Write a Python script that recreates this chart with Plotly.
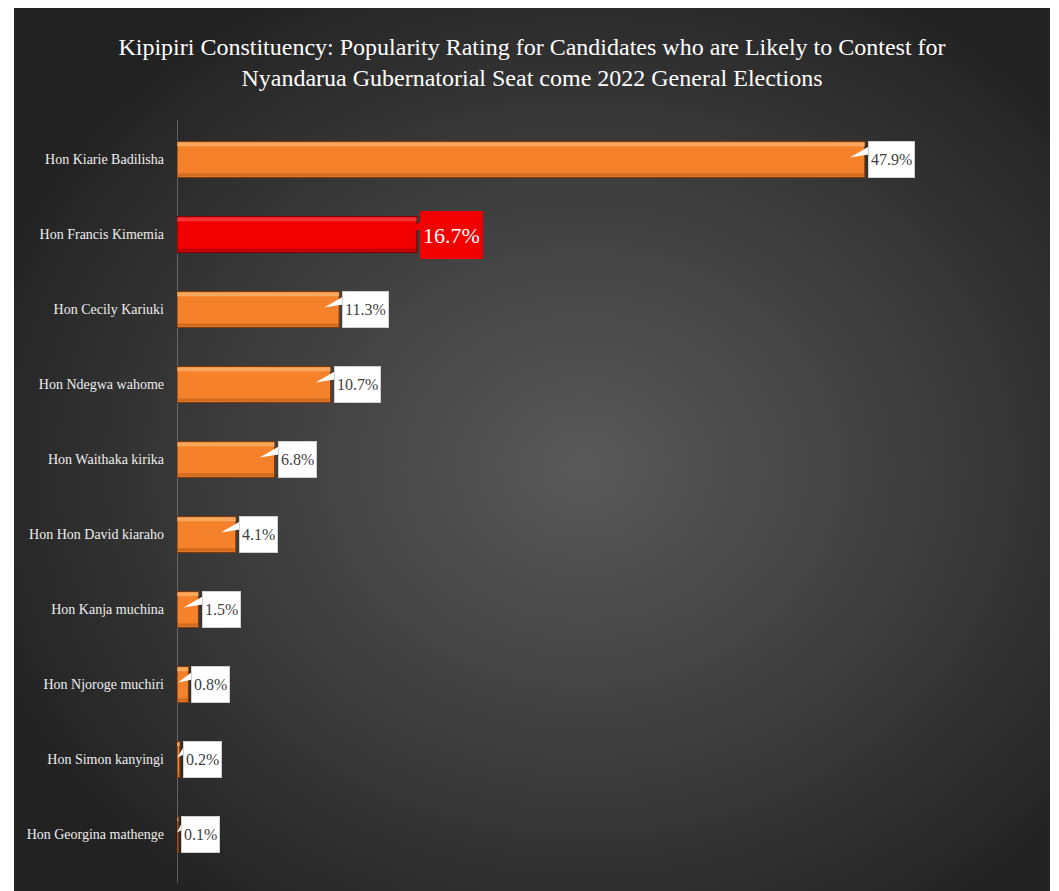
import base64
import plotly.graph_objects as go

# ---------------- data ----------------
candidates = [
    "Hon Kiarie Badilisha",
    "Hon Francis Kimemia",
    "Hon Cecily Kariuki",
    "Hon Ndegwa wahome",
    "Hon Waithaka kirika",
    "Hon Hon David kiaraho",
    "Hon Kanja muchina",
    "Hon Njoroge muchiri",
    "Hon Simon kanyingi",
    "Hon Georgina mathenge",
]
ratings = [47.9, 16.7, 11.3, 10.7, 6.8, 4.1, 1.5, 0.8, 0.2, 0.1]
value_labels = ["47.9%", "16.7%", "11.3%", "10.7%", "6.8%", "4.1%", "1.5%", "0.8%", "0.2%", "0.1%"]
highlight_index = 1

title_text = ("Kipipiri Constituency: Popularity Rating for Candidates who are Likely to Contest for"
              "<br>Nyandarua Gubernatorial Seat come 2022 General Elections")

# ---------------- layout geometry (figure coords; page body adds 8px offset) ----------------
W, H = 1051, 883
L, R, T, B = 169, 1022, 114, 864
XMAX = 59.4
px_per_unit = (R - L) / XMAX
FONT = "Liberation Serif"

ORANGE = "#F5822A"
RED = "#F20000"

ypos = list(range(len(candidates)))
colors = [RED if i == highlight_index else ORANGE for i in ypos]
edge = ["#7a0000" if i == highlight_index else "#7a3d12" for i in ypos]
hi_colors = ["rgba(255,130,130,0.4)" if i == highlight_index else "rgba(255,205,150,0.5)" for i in ypos]
lo_colors = ["rgba(120,0,0,0.4)" if i == highlight_index else "rgba(150,70,20,0.4)" for i in ypos]

fig = go.Figure()
fig.add_trace(go.Bar(
    x=ratings, y=ypos, orientation="h", width=0.48,
    marker=dict(color=colors, line=dict(color=edge, width=1.2)),
    hoverinfo="skip", showlegend=False,
))
fig.add_trace(go.Bar(
    x=ratings, y=ypos, orientation="h", width=0.05, offset=-0.228,
    marker=dict(color=hi_colors, line=dict(width=0)),
    hoverinfo="skip", showlegend=False,
))
fig.add_trace(go.Bar(
    x=ratings, y=ypos, orientation="h", width=0.04, offset=0.185,
    marker=dict(color=lo_colors, line=dict(width=0)),
    hoverinfo="skip", showlegend=False,
))

# value labels (callout boxes)
for i, (v, lab) in enumerate(zip(ratings, value_labels)):
    hl = i == highlight_index
    tip = min(15.0, v * px_per_unit * 0.9)
    fig.add_shape(
        type="path", xref="x", yref="y", xsizemode="pixel", ysizemode="pixel",
        xanchor=v, yanchor=i,
        path=f"M {-tip:.1f},2 L 4,13 L 4,5 Z",
        fillcolor=RED if hl else "white", line=dict(width=0), layer="above",
    )
    fig.add_annotation(
        x=v, y=i, xref="x", yref="y", text=lab, showarrow=False,
        xanchor="left", yanchor="middle", xshift=3,
        font=dict(family=FONT, size=22 if hl else 16, color="white" if hl else "#404040"),
        bgcolor=RED if hl else "white",
        bordercolor=RED if hl else "#d0d0d0", borderwidth=1, borderpad=2,
        height=42 if hl else 31,
    )

# vertical axis line (slightly longer than plot area, as in the original)
fig.add_shape(type="line", xref="x", yref="paper", x0=0, x1=0, y0=-0.015, y1=1.003,
              line=dict(color="#9a9a9a", width=1), layer="below")

# radial-gradient background (style only)
svg = (
    '<svg xmlns="http://www.w3.org/2000/svg" width="1036" height="885" viewBox="0 0 1036 885" preserveAspectRatio="none">'
    '<defs><radialGradient id="g" cx="0.55" cy="0.52" r="0.62">'
    '<stop offset="0" stop-color="#595959"/><stop offset="0.55" stop-color="#3c3c3c"/>'
    '<stop offset="1" stop-color="#222222"/></radialGradient></defs>'
    '<rect width="1036" height="885" fill="url(#g)"/></svg>'
)
src = "data:image/svg+xml;base64," + base64.b64encode(svg.encode()).decode()
bg_left, bg_right, bg_top, bg_bottom = 6, 1042, 0, 883
pw, ph = R - L, B - T
fig.add_layout_image(
    source=src, xref="paper", yref="paper",
    x=(bg_left - L) / pw, y=1 + (T - bg_top) / ph,
    sizex=(bg_right - bg_left) / pw, sizey=(bg_bottom - bg_top) / ph,
    xanchor="left", yanchor="top", sizing="stretch", layer="below",
)

fig.update_layout(
    width=W, height=H,
    margin=dict(l=L, r=W - R, t=T, b=H - B),
    paper_bgcolor="white", plot_bgcolor="rgba(0,0,0,0)",
    barmode="overlay", bargap=0.52,
    title=dict(text=title_text, x=(532 - 8) / W, xanchor="center", y=1 - 47 / H, yanchor="middle",
               yref="container", font=dict(family=FONT, size=24, color="white")),
    xaxis=dict(range=[0, XMAX], showgrid=False, zeroline=False, showticklabels=False,
               showline=False, fixedrange=True),
    yaxis=dict(range=[len(candidates) - 0.5, -0.5], tickmode="array", tickvals=ypos,
               ticktext=candidates, showgrid=False, zeroline=False, showline=False,
               ticks="", ticklabelstandoff=12,
               tickfont=dict(family=FONT, size=14, color="#eeeeee"), fixedrange=True),
)

fig.write_html("out.html")
